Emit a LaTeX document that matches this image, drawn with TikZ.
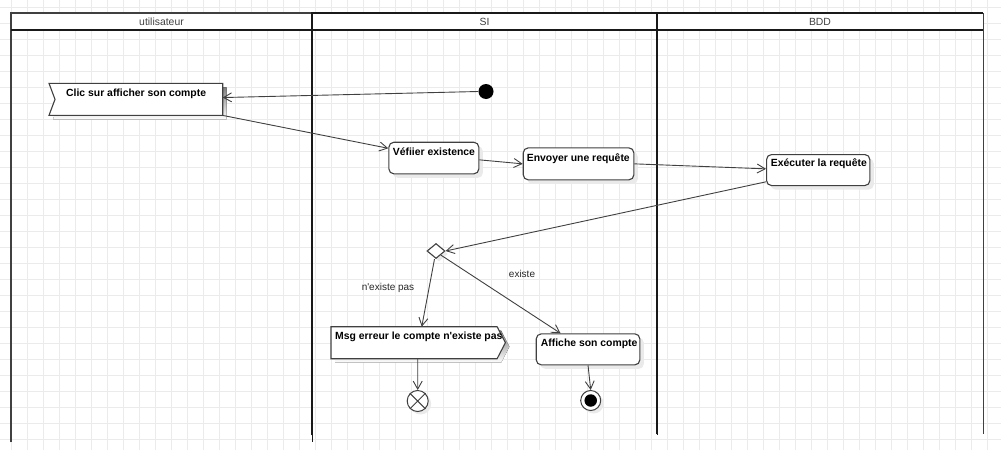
\documentclass[tikz,border=0pt]{standalone}
\usepackage{fontspec}
\setmainfont{Liberation Sans}
\usetikzlibrary{arrows.meta,shapes.geometric,shadows,calc}
\definecolor{gridc}{HTML}{EBEBEB}
\definecolor{edge}{HTML}{404040}
\definecolor{shade}{HTML}{EAEAEA}
\begin{document}
\begin{tikzpicture}[x=1pt,y=-1pt,
  gridline/.style={draw=gridc, line width=1pt},
  lane/.style={anchor=north west, inner sep=0pt},
  laneline/.style={draw=black!90, line width=1.8pt},
  head/.style={font=\fontsize{10.4}{12}\selectfont, text=edge, inner sep=0pt},
  act/.style={draw=edge, line width=1.1pt, fill=white, rounded corners=5pt, anchor=north west,
    inner sep=0pt, general shadow={fill=shade, shadow xshift=4pt, shadow yshift=-4pt}},
  box/.style={anchor=north west, inner sep=0pt},
  sig/.style={draw=edge, line width=1.1pt, fill=white},
  lbl/.style={font=\bfseries\fontsize{10.4}{12}\selectfont, anchor=base west, inner sep=0pt},
  guard/.style={font=\fontsize{10}{12}\selectfont, text=black!85, inner sep=0pt},
  flow/.style={draw=edge, line width=0.9pt, -{Straight Barb[length=8pt,width=9pt]}},
  dot/.style={circle, inner sep=0pt},
]
\useasboundingbox (0,0) rectangle (1001,450);

% background grid
\foreach \i in {0,...,62} \draw[gridline] ({11.5+16*\i},0) -- ({11.5+16*\i},450);
\foreach \j in {0,...,27} \draw[gridline] (0,{7.5+16*\j}) -- (1001,{7.5+16*\j});

% swimlanes (open at the bottom)
\fill[white] (11,13) rectangle (983,30);
\node[lane, minimum width=301pt, minimum height=429pt] (lane1) at (11,13) {};
\node[lane, minimum width=345pt, minimum height=422pt] (lane2) at (312,13) {};
\node[lane, minimum width=326pt, minimum height=421pt] (lane3) at (657,13) {};
\draw[laneline, line width=1.4pt, draw=edge] (lane1.south west) -- (lane1.north west) -- (lane1.north east);
\draw[laneline] (lane1.north east) -- (lane1.south east);
\draw[laneline] (lane2.south west) -- (lane2.north west) -- (lane2.north east) -- (lane2.south east);
\draw[laneline] (lane3.south west) -- (lane3.north west) -- (lane3.north east);
\draw[laneline, draw=edge] (lane3.north east) -- (lane3.south east);
\draw[laneline] (lane1.north west |- 0,30) -- (lane3.north east |- 0,30);
\node[head] (h1) at (161.5,21.5) {utilisateur};
\node[head] (h2) at (484.5,21.5) {SI};
\node[head] (h3) at (820,21.5) {BDD};

% initial node
\node[dot, fill=black, minimum size=15pt] (init) at (486,91.5) {};

% receive signal
\node[box, minimum width=173.3pt, minimum height=31.7pt] (clic) at (49,83.3) {};
\fill[shade, transform canvas={shift={(4pt,-4pt)}}] (clic.north west) -- (clic.north east) -- (clic.south east) -- (clic.south west) -- ($(clic.west)+(6,0)$) -- cycle;
\draw[sig] (clic.north west) -- (clic.north east) -- (clic.south east) -- (clic.south west) -- ($(clic.west)+(6,0)$) -- cycle;
\node[lbl] (tclic) at ($(clic.north west)+(17,13.4)$) {Clic sur afficher son compte};

% actions
\node[act, minimum width=90pt, minimum height=31.6pt] (ver) at (388.3,141.7) {};
\node[lbl] (tver) at ($(ver.north west)+(4.4,13.3)$) {Véfiier existence};
\node[act, minimum width=110.6pt, minimum height=32pt] (env) at (522.7,147.3) {};
\node[lbl] (tenv) at ($(env.north west)+(4,14)$) {Envoyer une requête};
\node[act, minimum width=103.3pt, minimum height=31pt] (exe) at (766,154) {};
\node[lbl] (texe) at ($(exe.north west)+(4.7,12.7)$) {Exécuter la requête};

% decision
\node[diamond, draw=edge, line width=1.1pt, fill=white, aspect=1.2, minimum width=18pt,
  minimum height=15pt, inner sep=0pt,
  general shadow={fill=shade, shadow xshift=3pt, shadow yshift=-3pt}] (dec) at (436,251) {};
\node[guard] (g1) at (388,288) {n\textquotesingle existe pas};
\node[guard] (g2) at (522,274) {existe};

% send signal
\node[box, minimum width=165.7pt, minimum height=31.6pt] (msg) at (331,326.7) {};
\fill[shade, transform canvas={shift={(4pt,-4pt)}}] (msg.north west) -- (msg.north east) -- ($(msg.east)+(8.3,0)$) -- (msg.south east) -- (msg.south west) -- cycle;
\draw[sig] (msg.north west) -- (msg.north east) -- ($(msg.east)+(8.3,0)$) -- (msg.south east) -- (msg.south west) -- cycle;
\node[lbl] (tmsg) at ($(msg.north west)+(4,12.5)$) {Msg erreur le compte n\textquotesingle existe pas};

\node[act, minimum width=103.6pt, minimum height=31pt] (aff) at (535.7,333.3) {};
\node[lbl] (taff) at ($(aff.north west)+(5,13.4)$) {Affiche son compte};

% flow final
\node[dot, draw=edge, line width=1pt, fill=white, minimum size=21pt,
  general shadow={fill=shade, shadow xshift=3pt, shadow yshift=-3pt}] (ff) at (417.7,401) {};
\draw[edge, line width=1pt] (ff.north west) -- (ff.south east) (ff.north east) -- (ff.south west);

% activity final
\node[dot, draw=edge, line width=1pt, fill=white, minimum size=20pt,
  general shadow={fill=shade, shadow xshift=3pt, shadow yshift=-3pt}] (fin) at (590.7,400.5) {};
\node[dot, fill=black, minimum size=12.5pt] (fincore) at (fin.center) {};

% control flows
\draw[flow] (init.west) -- ([yshift=1.8pt]clic.east);
\draw[flow] (clic.south east) -- ($(ver.north west)+(0,6.6)$);
\draw[flow] ([yshift=-1.8pt]ver.east) -- (env.west);
\draw[flow] (env.east) -- ([yshift=1.2pt]exe.west);
\draw[flow] ([yshift=4.3pt]exe.south west) -- (dec.east);
\draw[flow] ([xshift=-1.5pt]dec.south) -- ($(msg.north)+(7.7,0)$);
\draw[flow] (dec.south east) -- ($(aff.north)+(-27.5,0)$);
\draw[flow] ([xshift=3.7pt]msg.south) -- (ff.north);
\draw[flow] (aff.south) -- (fin.north);
\end{tikzpicture}
\end{document}
